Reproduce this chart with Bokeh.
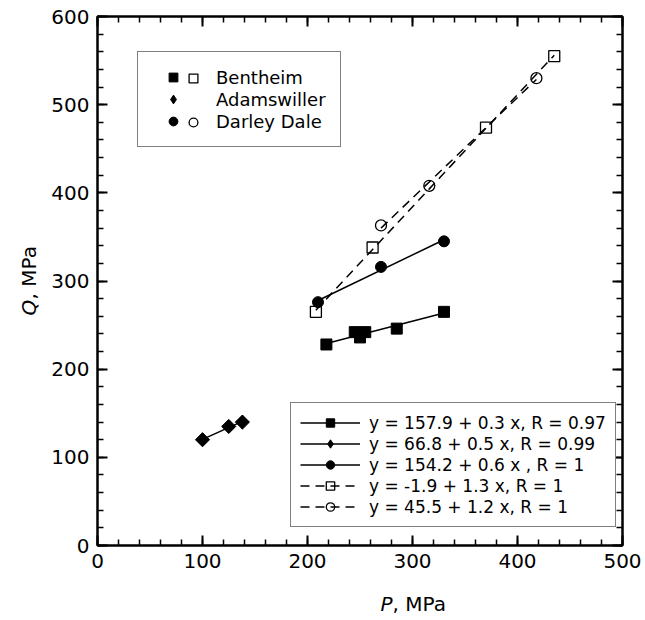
import numpy as np
from bokeh.plotting import figure
from bokeh.layouts import row, column
from bokeh.models import (LinearAxis, SingleIntervalTicker, Range1d, Legend,
                          LegendItem, Label, CustomJSTickFormatter)
from bokeh.embed import file_html
from bokeh.resources import INLINE

# ---------------- data ----------------
bent_fill_P = [218, 245, 250, 255, 285, 330]
bent_fill_Q = [228, 242, 236, 242, 246, 265]
bent_open_P = [208, 262, 370, 435]
bent_open_Q = [265, 338, 474, 555]
adam_P = [100, 125, 138]
adam_Q = [120, 135, 140]
darley_fill_P = [210, 270, 330]
darley_fill_Q = [276, 316, 345]
darley_open_P = [270, 316, 418]
darley_open_Q = [363, 408, 530]

rock_names = ["Bentheim", "Adamswiller", "Darley Dale"]
fit_labels = ["y = 157.9 + 0.3 x, R = 0.97",
              "y = 66.8 + 0.5 x, R = 0.99",
              "y = 154.2 + 0.6 x , R = 1",
              "y = -1.9 + 1.3 x, R = 1",
              "y = 45.5 + 1.2 x, R = 1"]
x_label_sym, y_label_sym, unit_text = "P", "Q", ", MPa"

FONT = "DejaVu Sans"

# ---------------- main plot ----------------
p = figure(width=600, height=580, x_range=Range1d(0, 500), y_range=Range1d(0, 600),
           output_backend="svg", toolbar_location=None,
           min_border_left=52, min_border_right=23, min_border_top=16, min_border_bottom=35)
p.xgrid.visible = False
p.ygrid.visible = False
p.outline_line_color = "black"
p.outline_line_width = 2
p.background_fill_color = "white"
p.border_fill_color = "white"


def style_axis(ax, show_labels=True):
    ax.ticker = SingleIntervalTicker(interval=100, num_minor_ticks=5)
    ax.axis_line_width = 2
    ax.axis_line_color = "black"
    ax.major_tick_in = 10
    ax.major_tick_out = 0
    ax.minor_tick_in = 6
    ax.minor_tick_out = 0
    ax.major_tick_line_width = 2
    ax.minor_tick_line_width = 1.5
    ax.major_tick_line_color = "black"
    ax.minor_tick_line_color = "black"
    ax.major_label_text_font = FONT
    ax.major_label_text_font_size = "20px"
    ax.major_label_text_color = "black"
    ax.major_label_standoff = 8
    if not show_labels:
        ax.formatter = CustomJSTickFormatter(code="return ''")


style_axis(p.xaxis[0])
style_axis(p.yaxis[0])
top_ax = LinearAxis()
right_ax = LinearAxis()
style_axis(top_ax, False)
style_axis(right_ax, False)
p.add_layout(top_ax, "above")
p.add_layout(right_ax, "right")


def fit_line(P, Q):
    k, b = np.polyfit(P, Q, 1)
    xs = np.array([min(P), max(P)], dtype=float)
    return xs, k * xs + b


LW = 1.5
DASH = "9 6"

# fit lines
xs, ys = fit_line(bent_fill_P, bent_fill_Q)
l_bf = p.line(xs, ys, line_color="black", line_width=LW)
xs, ys = fit_line(adam_P, adam_Q)
l_ad = p.line(xs, ys, line_color="black", line_width=LW)
xs, ys = fit_line(darley_fill_P, darley_fill_Q)
l_df = p.line(xs, ys, line_color="black", line_width=LW)
xs, ys = fit_line(bent_open_P, bent_open_Q)
l_bo = p.line(xs, ys, line_color="black", line_width=LW, line_dash=DASH)
xs, ys = fit_line(darley_open_P, darley_open_Q)
l_do = p.line(xs, ys, line_color="black", line_width=LW, line_dash=DASH)

# markers
s_bf = p.scatter(bent_fill_P, bent_fill_Q, marker="square", size=11,
                 fill_color="black", line_color="black")
s_ad = p.scatter(adam_P, adam_Q, marker="square", angle=np.pi / 4, size=10,
                 fill_color="black", line_color="black")
# diamond key for the legends (legend ignores marker angle); hidden inside the rotated squares
s_ad_key = p.scatter(adam_P, adam_Q, marker="diamond", size=13,
                     fill_color="black", line_color="black")
s_df = p.scatter(darley_fill_P, darley_fill_Q, marker="circle", size=11,
                 fill_color="black", line_color="black")
s_bo = p.scatter(bent_open_P, bent_open_Q, marker="square", size=11,
                 fill_color=None, line_color="black", line_width=1.3)
s_do = p.scatter(darley_open_P, darley_open_Q, marker="circle", size=11,
                 fill_color=None, line_color="black", line_width=1.3)

LEG_TXT = dict(label_text_font=FONT, label_text_color="black", margin=0)

# lower legend (fits)
leg_fit = Legend(items=[LegendItem(label=fit_labels[0], renderers=[l_bf, s_bf]),
                        LegendItem(label=fit_labels[1], renderers=[l_ad, s_ad_key]),
                        LegendItem(label=fit_labels[2], renderers=[l_df, s_df]),
                        LegendItem(label=fit_labels[3], renderers=[l_bo, s_bo]),
                        LegendItem(label=fit_labels[4], renderers=[l_do, s_do])],
                 location=(193, 18), padding=9, spacing=0,
                 glyph_width=60, glyph_height=21, label_height=21, label_standoff=9,
                 label_text_font_size="17px", **LEG_TXT,
                 border_line_color="black", border_line_width=1.5,
                 background_fill_color="white", background_fill_alpha=1)
p.add_layout(leg_fit)

# upper legend (rock names), filled symbols
leg_a = Legend(items=[LegendItem(label=rock_names[0], renderers=[s_bf]),
                      LegendItem(label=rock_names[1], renderers=[s_ad_key]),
                      LegendItem(label=rock_names[2], renderers=[s_df])],
               location=(40, 398), padding=14, spacing=0,
               glyph_width=42, glyph_height=22, label_height=22, label_standoff=22,
               label_text_font_size="18px", **LEG_TXT,
               border_line_color="black", border_line_width=1.5,
               background_fill_color="white", background_fill_alpha=1)
p.add_layout(leg_a)
# open symbols beside the filled ones (no border -> no padding)
leg_b1 = Legend(items=[LegendItem(label=" ", renderers=[s_bo])],
                location=(75, 456), padding=0, spacing=0,
                glyph_width=42, glyph_height=22, label_height=22, label_standoff=0,
                label_text_font_size="18px", **LEG_TXT,
                border_line_color=None, background_fill_alpha=0)
leg_b3 = Legend(items=[LegendItem(label=" ", renderers=[s_do])],
                location=(75, 412), padding=0, spacing=0,
                glyph_width=42, glyph_height=22, label_height=22, label_standoff=0,
                label_text_font_size="18px", **LEG_TXT,
                border_line_color=None, background_fill_alpha=0)
p.add_layout(leg_b1)
p.add_layout(leg_b3)


# ---------------- axis-title strips ----------------
def strip(w, h):
    f = figure(width=w, height=h, x_range=Range1d(0, 1), y_range=Range1d(0, 1),
               output_backend="svg", toolbar_location=None,
               x_axis_location=None, y_axis_location=None, min_border=0)
    f.xgrid.visible = False
    f.ygrid.visible = False
    f.outline_line_color = None
    f.background_fill_color = "white"
    f.border_fill_color = "white"
    return f


TITLE = dict(x_units="screen", y_units="screen", text_font=FONT, text_font_size="20px",
             text_color="black", text_baseline="middle", text_align="left")

left_strip = strip(45, 620)
left_strip.add_layout(Label(x=28, y=305, text=y_label_sym, text_font_style="italic",
                            angle=np.pi / 2, **TITLE))
left_strip.add_layout(Label(x=28, y=321, text=unit_text, angle=np.pi / 2, **TITLE))

bottom_strip = strip(600, 40)
bottom_strip.add_layout(Label(x=283, y=17, text=x_label_sym, text_font_style="italic", **TITLE))
bottom_strip.add_layout(Label(x=295, y=17, text=unit_text, **TITLE))

layout = row(left_strip, column(p, bottom_strip, spacing=0), spacing=0)

open("out.html", "w").write(file_html(layout, INLINE))
